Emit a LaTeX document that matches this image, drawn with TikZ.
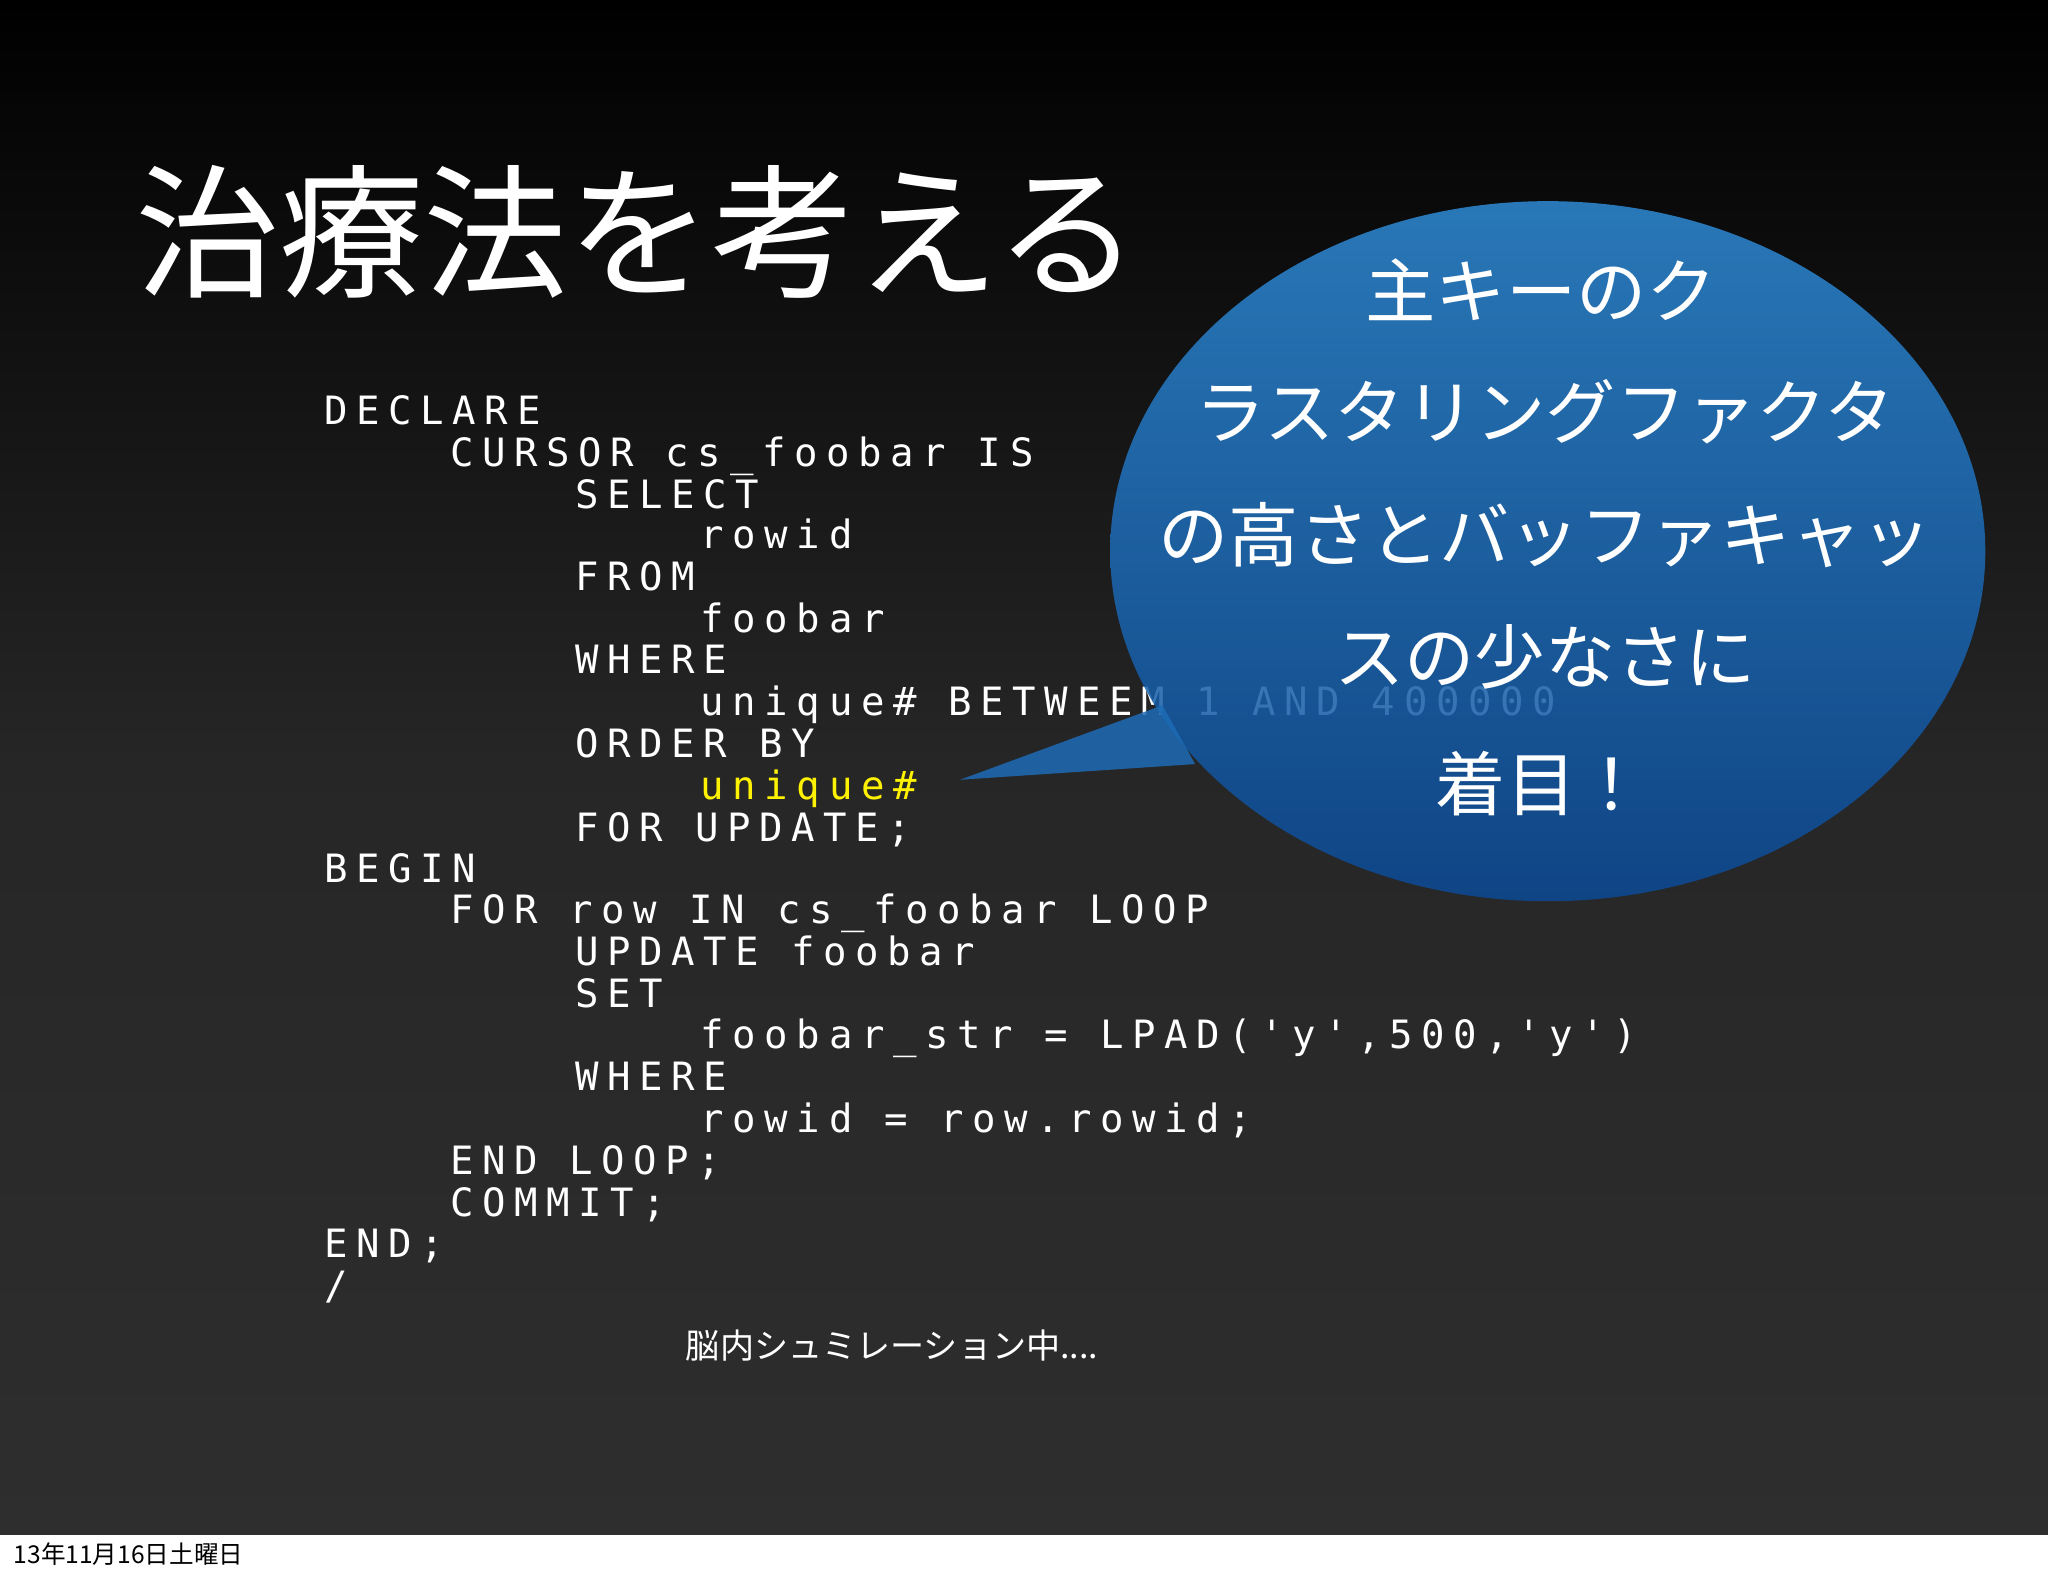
\documentclass[tikz,border=0pt]{standalone}
\usepackage{fontspec}
\setmonofont[LetterSpace=22]{DejaVu Sans Mono}
\newfontfamily\jp{Noto Sans CJK JP}
\usetikzlibrary{shapes.geometric}
\definecolor{bubA}{HTML}{2F8BD6}
\definecolor{bubB}{HTML}{0B4A96}
\tikzset{code/.style={anchor=base west,inner sep=0pt,text=white,font=\ttfamily\fontsize{11.1pt}{12pt}\selectfont},
 bub/.style={text=white,font=\jp\fontsize{20pt}{22pt}\selectfont,inner sep=0pt}}
\begin{document}
\begin{tikzpicture}[x=0.01306cm,y=-0.01306cm]
\useasboundingbox (0,0) rectangle (1568,1207);
\fill[white] (0,0) rectangle (1568,1207);
\shade[top color=black,bottom color=black!70!white!60!black,middle color=black!85] (0,0) rectangle (1575,1175);
\node[anchor=south west,inner sep=0pt,text=white,font=\jp\fontsize{41pt}{44pt}\selectfont] (title) at (103,229) {治療法を考える};
\foreach \x/\y/\t [count=\i] in {
248/325/DECLARE,
344/357/CURSOR cs\_foobar IS,
440/389/SELECT,
536/420/rowid,
440/452/FROM,
536/484/foobar,
440/516/WHERE,
536/548/unique\# BETWEEM 1 AND 400000,
440/580/ORDER BY,
440/644/FOR UPDATE;,
248/676/BEGIN,
344/707/FOR row IN cs\_foobar LOOP,
440/739/UPDATE foobar,
440/771/SET,
536/803/{foobar\_str = LPAD('y',500,'y')},
440/835/WHERE,
536/867/rowid = row.rowid;,
344/899/END LOOP;,
344/931/COMMIT;,
248/963/END;}
 \node[code] (c\i) at (\x,\y) {\t};
\node[code] (slash) at (248,995) {/};
\node[code,text=yellow] (hl) at (536,612) {unique\#};
\begin{scope}[opacity=0.85]
\shade[shading=axis,shading angle=-30,top color=bubA,bottom color=bubB] (1185,422) ellipse [x radius=335,y radius=268];
\fill[bubB!50!bubA] (735,597) -- (890,540) -- (915,585) -- cycle;
\end{scope}
\coordinate (tip) at (735,597);
\node[bub] (b1) at (1180,222) {主キーのク};
\node[bub] (b2) at (1183,315) {ラスタリングファクタ};
\node[bub] (b3) at (1183,410) {の高さとバッファキャッ};
\node[bub] (b4) at (1183,503) {スの少なさに};
\node[bub] (b5) at (1180,600) {着目！};
\node[text=white,font=\jp\fontsize{9.7pt}{10pt}\selectfont,inner sep=0pt] (sim) at (683,1030) {脳内シュミレーション中....};
\node[anchor=west,inner sep=0pt,font=\jp\fontsize{7pt}{8pt}\selectfont] (date) at (10,1190) {13年11月16日土曜日};
\end{tikzpicture}
\end{document}
